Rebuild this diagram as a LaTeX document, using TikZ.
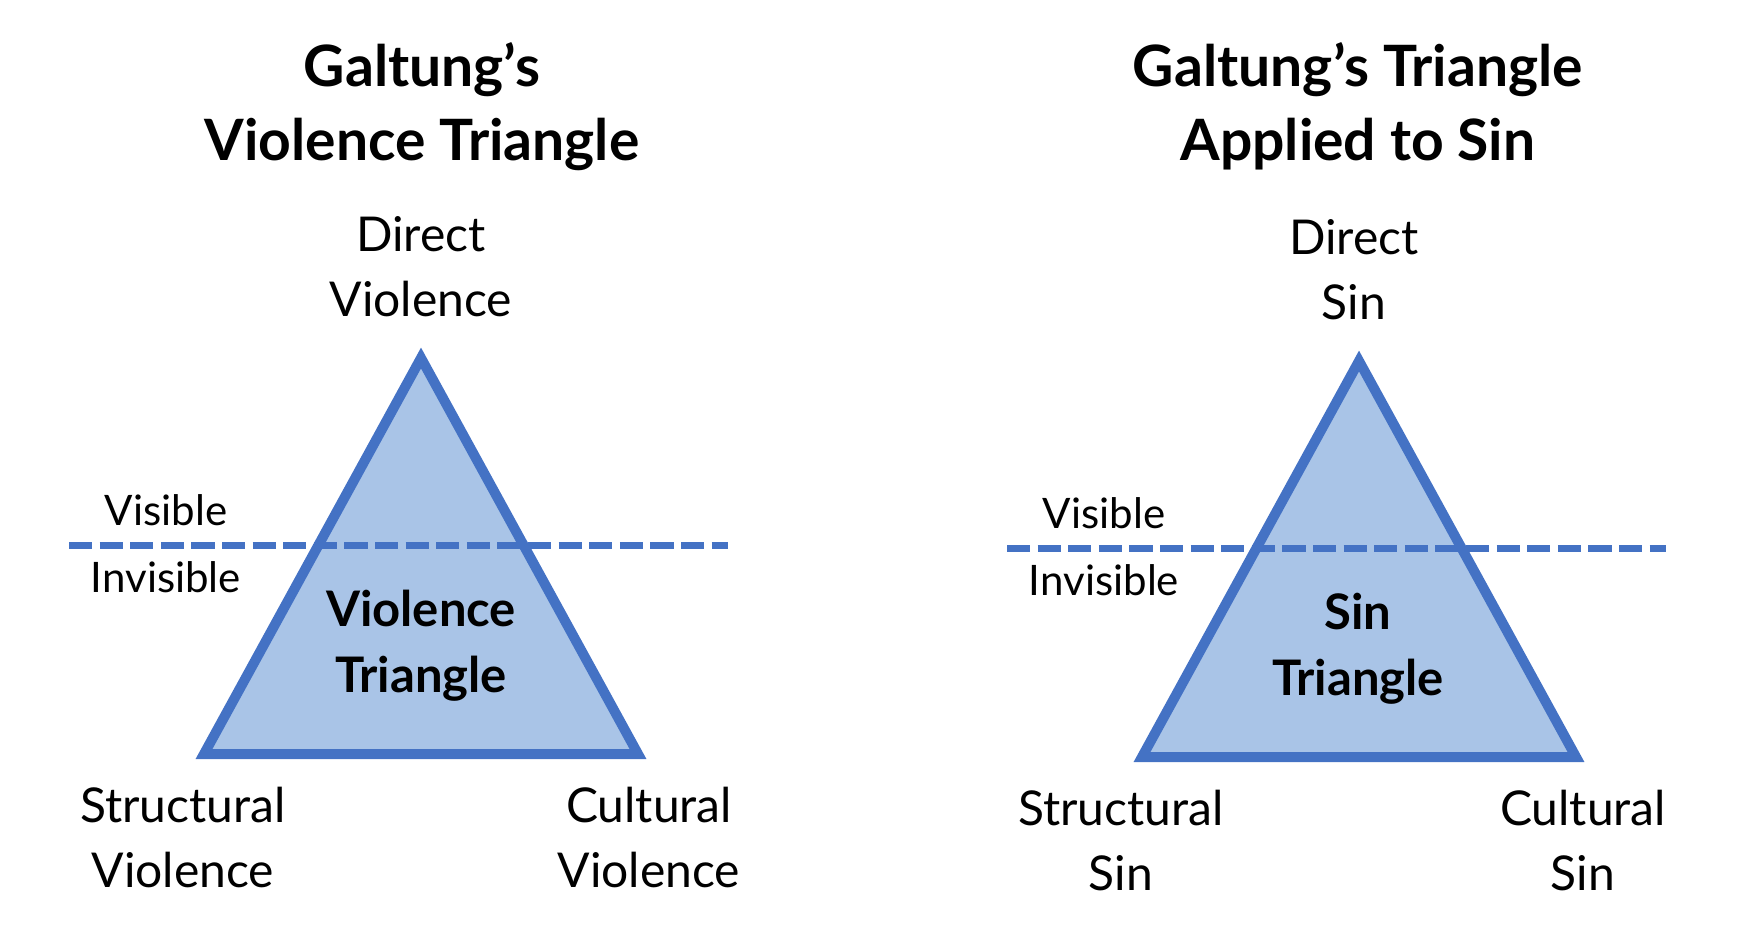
\documentclass[tikz,border=0pt]{standalone}
\usepackage{fontspec}
\setmainfont{Lato}
\definecolor{triline}{HTML}{4472C4}
\definecolor{trifill}{HTML}{A9C4E7}
\tikzset{
  title/.style={font=\fontsize{28.5}{37}\selectfont\bfseries, align=center, anchor=base, inner sep=0pt},
  corner/.style={font=\fontsize{24}{32.5}\selectfont, align=center, anchor=base, inner sep=0pt},
  inner/.style={font=\fontsize{24.5}{33}\selectfont\bfseries, align=center, anchor=base, inner sep=0pt},
  vis/.style={font=\fontsize{21}{30}\selectfont, align=center, anchor=base, inner sep=0pt},
  tri/.style={draw=triline, fill=trifill, line width=5pt, line join=miter},
  divider/.style={draw=triline, line width=3.5pt, dash pattern=on 11.6pt off 3.7pt}
}
\begin{document}
\begin{tikzpicture}[x=0.5pt, y=-0.5pt]
\useasboundingbox (0,0) rectangle (1750,938);
% ---------- left diagram ----------
\coordinate (LA) at (421,358);
\coordinate (LB) at (204,754);
\coordinate (LC) at (638,754);
\path[tri] (LA) -- (LB) -- (LC) -- cycle;
\coordinate (LD1) at (69,545);
\coordinate (LD2) at (728,545);
\draw[divider] (LD1) -- (LD2);
\node[title]  (ltitle) at (422,160) {Galtung’s\\Violence Triangle};
\node[corner] (ltop)   at (421,316) {Direct\\Violence};
\node[vis]    (lvis)   at (166,525) {Visible};
\node[vis]    (linv)   at (166,592) {Invisible};
\node[inner]  (lin)    at (421,692) {Violence\\Triangle};
\node[corner] (lstr)   at (183,887) {Structural\\Violence};
\node[corner] (lcul)   at (649,887) {Cultural\\Violence};
% ---------- right diagram ----------
\coordinate (RA) at (1359,361);
\coordinate (RB) at (1142,757);
\coordinate (RC) at (1576,757);
\path[tri] (RA) -- (RB) -- (RC) -- cycle;
\coordinate (RD1) at (1007,548);
\coordinate (RD2) at (1666,548);
\draw[divider] (RD1) -- (RD2);
\node[title]  (rtitle) at (1358,160) {Galtung’s Triangle\\Applied to Sin};
\node[corner] (rtop)   at (1354,319) {Direct\\Sin};
\node[vis]    (rvis)   at (1104,528) {Visible};
\node[vis]    (rinv)   at (1104,595) {Invisible};
\node[inner]  (rin)    at (1358,695) {Sin\\Triangle};
\node[corner] (rstr)   at (1121,890) {Structural\\Sin};
\node[corner] (rcul)   at (1583,890) {Cultural\\Sin};
\end{tikzpicture}
\end{document}
